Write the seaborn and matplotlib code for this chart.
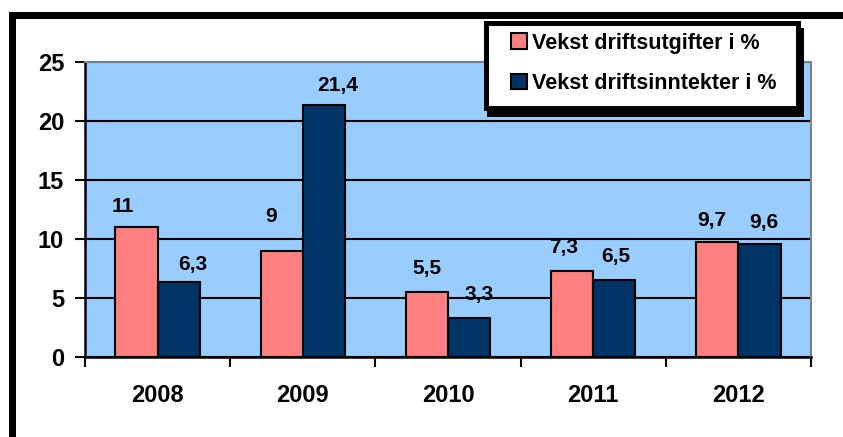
import pandas as pd
import matplotlib
matplotlib.use('Agg')
import matplotlib.pyplot as plt
import seaborn as sns
from matplotlib.patches import Rectangle, Patch

# ── Data ──────────────────────────────────────────────────────────────
years = ['2008', '2009', '2010', '2011', '2012']
series = ['Vekst driftsutgifter i %', 'Vekst driftsinntekter i %']
utgifter = [11, 9, 5.5, 7.3, 9.7]
inntekter = [6.3, 21.4, 3.3, 6.5, 9.6]
y_ticks = [0, 5, 10, 15, 20, 25]

# label nudges (pixels), same order as the bars: utgifter then inntekter
label_dx = [[-14, -11, 0, -9, -6], [14, 14, 10, 2, 4]]
label_dy = [[15, 29, 18, 18, 16], [12, 14, 18, 18, 16]]

colors = ['#FF8080', '#003366']
W, H = 843, 437

sns.set_style('white')
plt.rcParams['font.family'] = ['Liberation Sans', 'DejaVu Sans']
plt.rcParams['font.weight'] = 'bold'
for key in ['text.color', 'axes.labelcolor', 'xtick.color', 'ytick.color']:
    plt.rcParams[key] = 'black'

df = pd.DataFrame({
    'year': years * 2,
    'value': utgifter + inntekter,
    'serie': [series[0]] * len(years) + [series[1]] * len(years),
})

fig = plt.figure(figsize=(W / 100, H / 100), dpi=100)
fig.patch.set_facecolor('white')

def px(x0, y0, x1, y1):
    # pixel box (top-left origin) -> figure fractions
    return (x0 / W, 1 - y1 / H), (x1 - x0) / W, (y1 - y0) / H

# plot area
ax = fig.add_axes([85 / W, 1 - 356.5 / H, (811 - 85) / W, (356.5 - 62.5) / H])
ax.set_facecolor('#99CCFF')

sns.barplot(data=df, x='year', y='value', hue='serie', palette=colors,
            width=0.58, edgecolor='black', linewidth=1.5, saturation=1,
            ax=ax, legend=False)

ax.set_ylim(0, 25)
ax.set_xlim(-0.5, len(years) - 0.5)
ax.set_yticks(y_ticks)
ax.set_yticklabels([str(t) for t in y_ticks])
ax.set_xlabel('')
ax.set_ylabel('')

ax.set_axisbelow(True)
ax.yaxis.grid(True, color='black', lw=1.5)
ax.xaxis.grid(False)

for s in ['left', 'bottom']:
    ax.spines[s].set_color('black')
    ax.spines[s].set_linewidth(1.8)
for s in ['top', 'right']:
    ax.spines[s].set_color('#808080')
    ax.spines[s].set_linewidth(1.5)

ax.tick_params(axis='y', direction='out', length=7, width=1.5, color='black',
               pad=8, labelsize=17, left=True, labelcolor='black')
ax.tick_params(axis='x', which='major', length=0, pad=20, labelsize=17,
               labelcolor='black')
ax.set_xticks([i - 0.5 for i in range(len(years) + 1)], minor=True)
ax.tick_params(axis='x', which='minor', direction='out', length=7, width=1.5,
               color='black', bottom=True)
for lab in ax.get_xticklabels() + ax.get_yticklabels():
    lab.set_fontweight('bold')

# value labels
for ci, cont in enumerate(ax.containers):
    for bi, bar in enumerate(cont):
        v = bar.get_height()
        txt = f'{v:g}'.replace('.', ',')
        ax.annotate(txt, (bar.get_x() + bar.get_width() / 2, v),
                    xytext=(label_dx[ci][bi], label_dy[ci][bi]),
                    textcoords='offset pixels', ha='center', va='baseline',
                    fontsize=15, fontweight='bold', color='black', zorder=5)

# outer frame (top and left strips visible)
xy, w, h = px(9, 12, W, 19)
fig.patches.append(Rectangle(xy, w, h, transform=fig.transFigure,
                             facecolor='black', edgecolor='none', zorder=1))
xy, w, h = px(9, 12, 16, H)
fig.patches.append(Rectangle(xy, w, h, transform=fig.transFigure,
                             facecolor='black', edgecolor='none', zorder=1))

# legend box with black shadow
xy, w, h = px(487, 28, 804, 117)
fig.patches.append(Rectangle(xy, w, h, transform=fig.transFigure,
                             facecolor='black', edgecolor='none', zorder=2))
xy, w, h = px(485.5, 23.5, 797.5, 107.5)
fig.patches.append(Rectangle(xy, w, h, transform=fig.transFigure,
                             facecolor='white', edgecolor='black', lw=3.6, zorder=3))

handles = [Patch(facecolor=c, edgecolor='black', lw=1.5) for c in colors]
leg = fig.legend(handles, series, loc='center left',
                 bbox_to_anchor=(510.5 / W, 1 - 63.3 / H), frameon=False,
                 borderpad=0, borderaxespad=0, handlelength=0.75, handleheight=0.75,
                 handletextpad=0.25, labelspacing=0.9,
                 prop={'size': 15.5, 'weight': 'bold'})
for t in leg.get_texts():
    t.set_color('black')

fig.savefig('out.png', dpi=100)
